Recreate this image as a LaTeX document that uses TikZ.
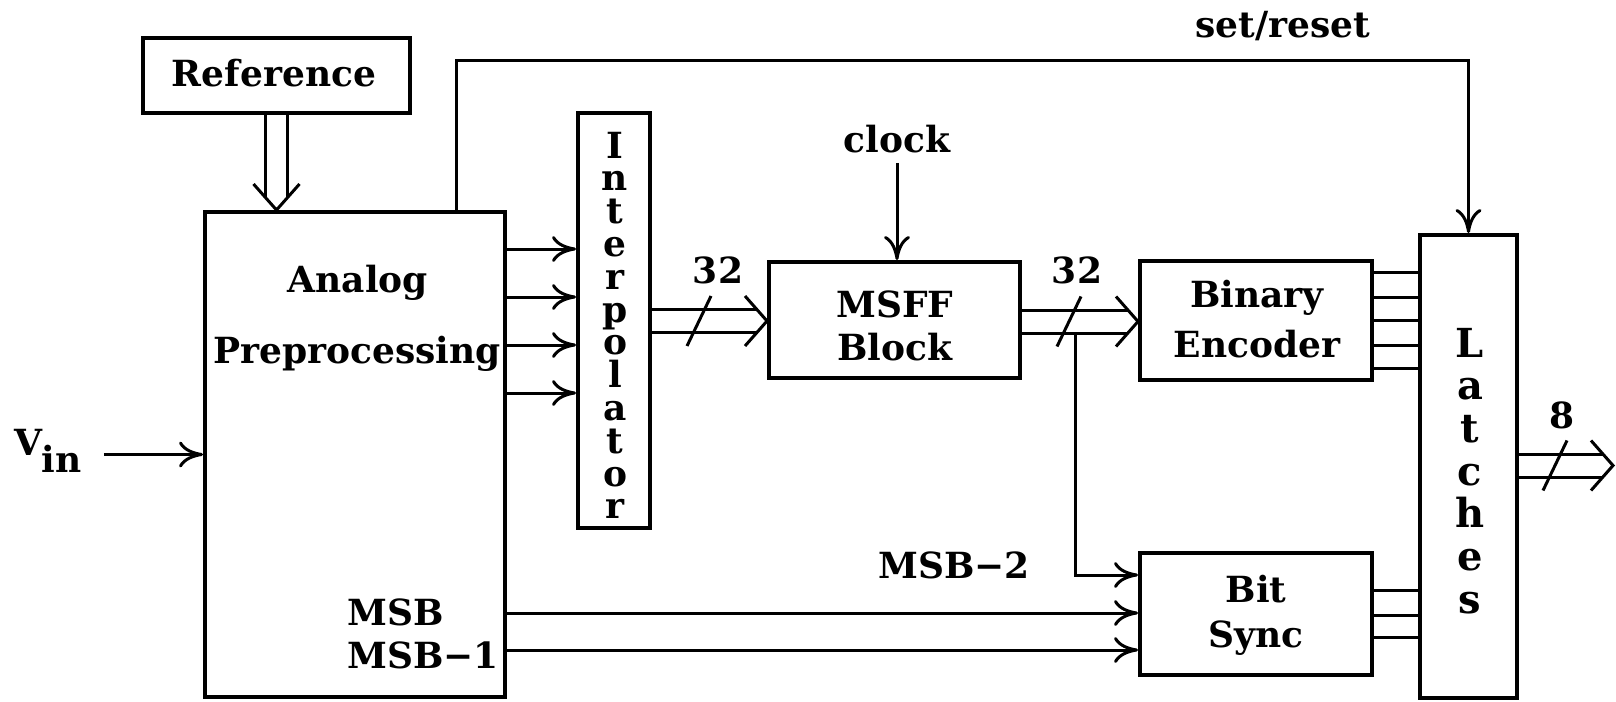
\documentclass[tikz,border=0pt]{standalone}
\usepackage{fontspec}
\setmainfont{DejaVu Serif}
\usetikzlibrary{arrows.meta,calc}
\newcommand{\hbus}[3]{%
  \draw[conn] ($(#1)+(0,-11.5)$) -- ($(#2)+(-10,-11.5)$);
  \draw[conn] ($(#1)+(0,11.5)$) -- ($(#2)+(-10,11.5)$);
  \draw[conn, line join=miter] ($(#2)+(-22,-25)$) -- (#2) -- ($(#2)+(-22,25)$);
  \draw[conn] ($(#1)+({#3-12},25)$) -- ($(#1)+({#3+12},-25)$);
}
\begin{document}
\begin{tikzpicture}[x=0.5pt,y=-0.5pt,
  box/.style={draw, line width=2pt, inner sep=0pt},
  conn/.style={line width=1.5pt},
  arr/.style={conn, -{Computer Modern Rightarrow[length=12pt,width=13pt]}},
  lbl/.style={font=\fontsize{18}{21}\selectfont\bfseries, inner sep=0pt, anchor=base},
  vlbl/.style={font=\fontsize{20}{23}\selectfont\bfseries, inner sep=0pt, anchor=base},
]
\useasboundingbox (0,0) rectangle (1616,701);

% boxes
\node[box, minimum width=133.5pt, minimum height=37.5pt] (ref) at (276.5,75.5) {};
\node[box, minimum width=150pt, minimum height=242.5pt] (analog) at (355,454.5) {};
\node[box, minimum width=36pt, minimum height=207.5pt] (interp) at (614,320.5) {};
\node[box, minimum width=125.5pt, minimum height=58pt] (msff) at (894.5,320) {};
\node[box, minimum width=116pt, minimum height=59.5pt] (enc) at (1256,320.5) {};
\node[box, minimum width=116pt, minimum height=61pt] (bitsync) at (1256,614) {};
\node[box, minimum width=48.5pt, minimum height=231.5pt] (latches) at (1468.5,466.5) {};

% texts
\node[lbl] (reft) at (274,87) {Reference};
\node[lbl] (an1) at (358,292) {Analog};
\node[lbl] (an2) at (357,363) {Preprocessing};
\node[lbl] (ms1) at (895,317) {MSFF};
\node[lbl] (ms2) at (895,360) {Block};
\node[lbl] (en1) at (1257,307) {Binary};
\node[lbl] (en2) at (1257,357) {Encoder};
\node[lbl] (bs1) at (1256,602) {Bit};
\node[lbl] (bs2) at (1256,647) {Sync};
\foreach \ch [count=\i from 0] in {I,n,t,e,r,p,o,l,a,t,o,r}
  \node[lbl] (ip\i) at (615,{158+32.8*\i}) {\ch};
\foreach \ch [count=\i from 0] in {L,a,t,c,h,e,s}
  \node[vlbl] (lt\i) at (1470,{357+42.7*\i}) {\ch};

% reference double arrow
\coordinate (rtip) at (ref.south |- analog.north);
\draw[conn] ($(ref.south)+(-11,0)$) -- ($(rtip)+(-11,-12.5)$);
\draw[conn] ($(ref.south)+(11,0)$) -- ($(rtip)+(11,-12.5)$);
\draw[conn, line join=miter] ($(rtip)+(-23,-26)$) -- (rtip) -- ($(rtip)+(23,-26)$);

% Vin
\node[lbl] (vin) at (48,455) {V\kern-0.5pt\raisebox{-8.5pt}{in}};
\draw[arr] ($(vin.east |- analog.west)+(22,0)$) -- (analog.west);

% set/reset
\draw[arr] ($(analog.north west)+(253,0)$) |- ($(latches.north)+(0,-172)$) -- (latches.north);
\node[lbl] (setr) at (1283,38) {set/reset};

% analog -> interpolator
\foreach \yy in {249,297,345,393}
  \draw[arr] (analog.east |- 0,\yy) -- (interp.west |- 0,\yy);

% buses
\coordinate (b1s) at (interp.east |- 0,321);
\coordinate (b1e) at (msff.west |- 0,321);
\hbus{b1s}{b1e}{47}
\node[lbl] (n32a) at (718,283) {32};

\coordinate (b2s) at (msff.east |- 0,321.5);
\coordinate (b2e) at (enc.west |- 0,321.5);
\hbus{b2s}{b2e}{47}
\node[lbl] (n32b) at (1077,283) {32};

% branch MSB-2
\coordinate (br) at ($(b2s)+(53,11.5)$);
\draw[arr] (br) |- (bitsync.west |- 0,575);
\node[lbl] (msb2) at (954,578) {MSB−2};

% clock
\node[lbl] (clk) at (897,152) {clock};
\draw[arr] ($(clk.south)+(0,10)$) -- (clk.south |- msff.north);

% encoder -> latches
\foreach \yy in {272,297,320,345,368}
  \draw[conn] (enc.east |- 0,\yy) -- (latches.west |- 0,\yy);
% bit sync -> latches
\foreach \yy in {590,615,637}
  \draw[conn] (bitsync.east |- 0,\yy) -- (latches.west |- 0,\yy);

% MSB, MSB-1
\foreach \yy in {613,650}
  \draw[arr] (analog.east |- 0,\yy) -- (bitsync.west |- 0,\yy);
\node[lbl, anchor=base west] (msb) at (347,625) {MSB};
\node[lbl, anchor=base west] (msb1) at (347,668) {MSB−1};

% output
\coordinate (b3s) at (latches.east |- 0,465.5);
\coordinate (b3e) at (1613,465.5);
\hbus{b3s}{b3e}{36}
\node[lbl] (n8) at (1562,428) {8};
\end{tikzpicture}
\end{document}
